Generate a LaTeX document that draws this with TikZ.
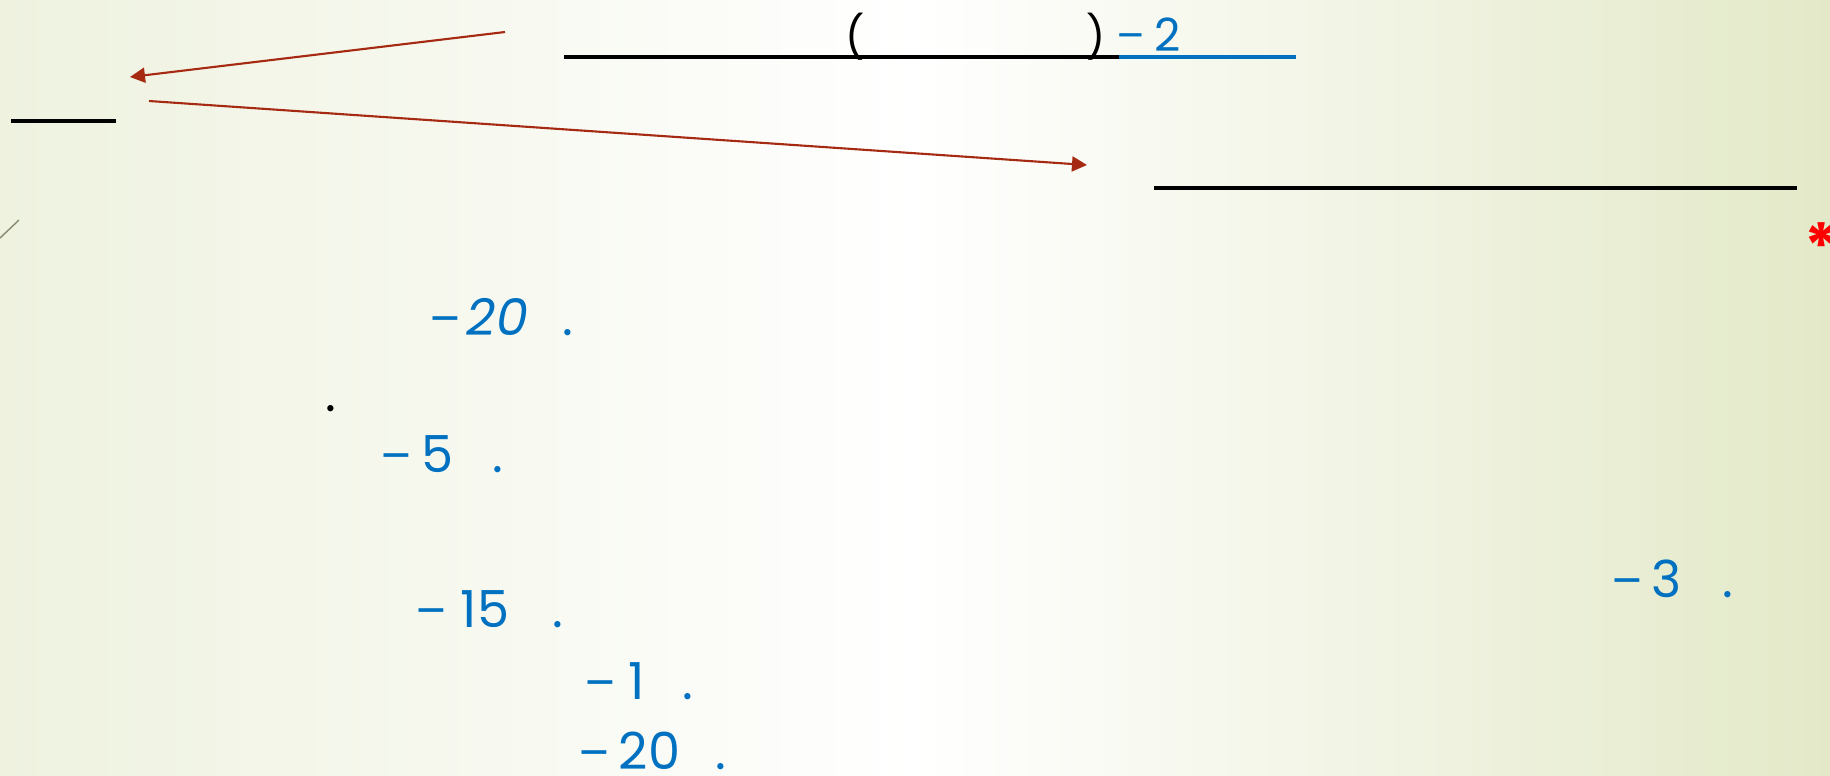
\documentclass[tikz,border=0pt]{standalone}
\usepackage{fontspec}
\setmainfont{Poppins}
\newfontfamily\minusfont{Liberation Sans}
\usetikzlibrary{arrows.meta}
\definecolor{numblue}{HTML}{0070C0}
\definecolor{arrowred}{RGB}{166,41,18}
\definecolor{bgL}{HTML}{EEF2DF}
\definecolor{bgR}{HTML}{E3E9C8}
\definecolor{slashgray}{HTML}{8A8A70}
\begin{document}
\begin{tikzpicture}[x=0.01cm,y=-0.01cm,
  num/.style={text=numblue, inner sep=0pt, anchor=base west, font=\fontsize{14.5}{17}\selectfont},
  inum/.style={num, font=\fontsize{14.5}{17}\selectfont\itshape},
  mns/.style={num, font=\fontsize{14.5}{17}\selectfont\minusfont},
  blk/.style={inner sep=0pt, anchor=base west, font=\fontsize{14.5}{17}\selectfont},
  paren/.style={inner sep=0pt, anchor=center, font=\fontsize{12}{14}\selectfont},
  rulel/.style={line width=1.2pt, line cap=butt},
  pointer/.style={draw=arrowred, line width=0.6pt, -{Triangle[length=0.15cm,width=0.15cm]}},
]
\useasboundingbox (0,0) rectangle (1830,775);
\begin{scope}
\clip (0,0) rectangle (1830,775);
\shade[left color=bgL, right color=bgR, middle color=white] (0,0) rectangle (1830,775);

% connectors
\coordinate (a1s) at (505,32);
\coordinate (a1e) at (130,77);
\coordinate (a2s) at (149,101);
\coordinate (a2e) at (1087,165);
\draw[pointer] (a1s) -- (a1e);
\draw[pointer] (a2s) -- (a2e);

% rules
\coordinate (t1) at (564,57);
\coordinate (t2) at (1119,57);
\coordinate (t3) at (1296,57);
\draw[rulel, line width=1.3pt] (t1) -- (t2);
\draw[rulel, line width=1.3pt, numblue] (t2) -- (t3);
\coordinate (s1) at (11,121);
\coordinate (s2) at (116,121);
\draw[rulel, line width=1.4pt] (s1) -- (s2);
\coordinate (r1) at (1154,188);
\coordinate (r2) at (1797,188);
\draw[rulel, line width=1.4pt] (r1) -- (r2);
\coordinate (g1) at (0,238);
\coordinate (g2) at (19,220);
\draw[slashgray, line width=0.4pt] (g1) -- (g2);

% top expression
\node[paren] (po) at (855,37) {(};
\node[paren] (pc) at (1096,37) {)};
\node[mns, font=\fontsize{13}{15}\selectfont\minusfont] (topm) at (1117,50) {−};
\node[num, font=\fontsize{13}{15}\selectfont] (top2) at (1154,51) {2};

% numbers
\node[mns] (m1) at (430,335) {−};
\node[inum] (n1) at (466,335) {20};
\node[num] (d1) at (562,335) {.};

\node[blk] (bd) at (325,411) {.};

\node[mns] (m2) at (381,472) {−};
\node[num] (n2) at (421,472) {5};
\node[num] (d2) at (492,472) {.};

\node[mns] (m3) at (416,627) {−};
\node[num] (n3) at (460,627) {15};
\node[num] (d3) at (552,627) {.};

\node[mns] (m4) at (585,699) {−};
\node[num] (n4) at (628,699) {1};
\node[num] (d4) at (682,699) {.};

\node[mns] (m5) at (579,769) {−};
\node[num] (n5) at (618,769) {20};
\node[num] (d5) at (715,769) {.};

\node[mns] (m6) at (1612,597) {−};
\node[num] (n6) at (1651,597) {3};
\node[num] (d6) at (1722,597) {.};

\node[inner sep=0pt, text=red, font=\fontsize{18}{20}\selectfont\bfseries] (ast) at (1821,246) {*};
\end{scope}
\end{tikzpicture}
\end{document}
